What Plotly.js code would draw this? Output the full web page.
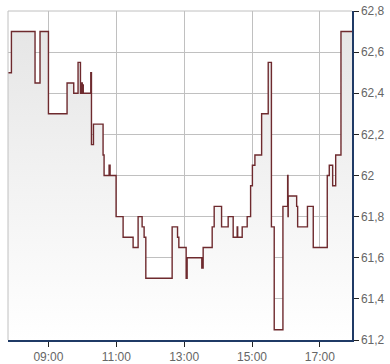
<!DOCTYPE html>
<html>
<head>
<meta charset="utf-8">
<script src="https://cdn.plot.ly/plotly-3.0.1.min.js"></script>
<style>html,body{margin:0;padding:0;background:#fff;}#chart{width:390px;height:364px;}</style>
</head>
<body>
<div id="chart"></div>
<script>
var D = '2024-01-02 ';
var times = ['07:48:29','07:54:32','08:36:18','08:45:07','09:00:00','09:32:56','09:44:44','09:52:22','09:56:38','09:58:56','09:59:49','10:00:42','10:01:36','10:14:53','10:16:05','10:19:37','10:36:37','10:38:24','10:47:15','10:49:01','10:59:38','11:12:03','11:29:44','11:38:35','11:45:40','11:49:12','11:52:13','12:38:45','12:48:18','12:50:36','13:03:32','13:05:18','13:31:12','13:33:36','13:49:34','13:53:06','14:06:10','14:17:51','14:26:42','14:33:47','14:34:40','14:42:38','14:51:29','14:57:31','15:00:42','15:05:08','15:17:00','15:28:40','15:34:20','15:39:17','15:54:41','16:03:01','16:03:40','16:04:04','16:18:57','16:20:43','16:38:03','16:48:19','17:13:05','17:16:38','17:22:39','17:27:58','17:37:20','17:56:50'];
var prices = [62.5,62.7,62.45,62.7,62.3,62.45,62.4,62.55,62.4,62.45,62.4,62.44,62.4,62.5,62.15,62.25,62.1,62.0,62.05,62.0,61.8,61.7,61.65,61.8,61.75,61.7,61.5,61.75,61.7,61.65,61.5,61.6,61.55,61.65,61.75,61.85,61.75,61.8,61.7,61.75,61.7,61.75,61.8,61.95,62.05,62.1,62.3,62.55,61.75,61.25,61.85,62.0,61.8,61.9,61.85,61.75,61.85,61.65,62.0,62.05,61.95,62.1,62.7,62.7];
var tickTimes = ['09:00','11:00','13:00','15:00','17:00'];
var yTicks = [61.2,61.4,61.6,61.8,62.0,62.2,62.4,62.6,62.8];
var yTickLabels = ['61,2','61,4','61,6','61,8','62','62,2','62,4','62,6','62,8'];

var xs = times.map(function(t){return D+t;});
var rangeStart = D+'07:48:29', rangeEnd = D+'17:56:50';

var base = {x:[xs[0], xs[xs.length-1]], y:[61.2,61.2], mode:'lines', line:{width:0}, hoverinfo:'skip', showlegend:false};
var main = {x:xs, y:prices, mode:'lines', line:{shape:'hv', color:'#6e2a2e', width:1.4},
  fill:'tonexty', fillgradient:{type:'vertical', colorscale:[[0,'#ffffff'],[1,'#e6e6e6']]},
  showlegend:false};

var tickFont = {family:'Liberation Sans, Arial, sans-serif', size:12, color:'#666666'};
var layout = {
  width:390, height:364,
  margin:{l:8, r:38, t:11, b:24},
  paper_bgcolor:'#ffffff', plot_bgcolor:'#ffffff',
  showlegend:false,
  xaxis:{type:'date', range:[rangeStart, rangeEnd], tickvals:tickTimes.map(function(t){return D+t;}), ticktext:tickTimes,
    showgrid:true, gridcolor:'#c0c0c0', gridwidth:1, showline:true, linecolor:'#1f3a66', linewidth:1.5,
    ticks:'outside', ticklen:5, tickcolor:'#222222', tickfont:tickFont, zeroline:false, fixedrange:true},
  yaxis:{side:'right', range:[61.2,62.8], tickvals:yTicks, ticktext:yTickLabels,
    showgrid:true, gridcolor:'#c0c0c0', gridwidth:1, showline:true, linecolor:'#1f3a66', linewidth:1.5,
    ticks:'outside', ticklen:5, tickcolor:'#222222', tickfont:tickFont, zeroline:false, fixedrange:true},
  shapes:[
    {type:'line', xref:'paper', yref:'paper', x0:0, x1:1, y0:1, y1:1, line:{color:'#c0c0c0', width:1}},
    {type:'line', xref:'paper', yref:'paper', x0:0, x1:0, y0:0, y1:1, line:{color:'#c0c0c0', width:1}}
  ]
};
Plotly.newPlot('chart', [base, main], layout, {displayModeBar:false, staticPlot:true});
</script>
</body>
</html>
